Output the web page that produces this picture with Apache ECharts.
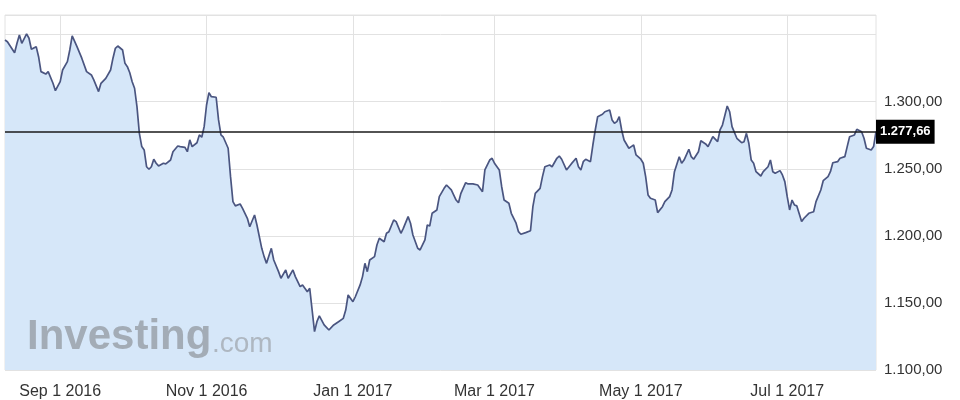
<!DOCTYPE html>
<html>
<head>
<meta charset="utf-8">
<script src="https://cdn.jsdelivr.net/npm/echarts@6/dist/echarts.min.js"></script>
<style>
html,body{margin:0;padding:0;background:#fff;}
#chart{width:960px;height:400px;}
</style>
</head>
<body>
<div id="chart"></div>
<script>
var dates = ['2016-08-09','2016-08-10','2016-08-13','2016-08-14','2016-08-15','2016-08-16','2016-08-18','2016-08-19','2016-08-20','2016-08-22','2016-08-23','2016-08-24','2016-08-26','2016-08-27','2016-08-29','2016-08-30',
'2016-09-01','2016-09-02','2016-09-04','2016-09-05','2016-09-06','2016-09-08','2016-09-10','2016-09-12','2016-09-14','2016-09-15','2016-09-17','2016-09-18','2016-09-20','2016-09-22','2016-09-23','2016-09-24','2016-09-25','2016-09-27','2016-09-28','2016-09-29','2016-09-30',
'2016-10-01','2016-10-02','2016-10-03','2016-10-04','2016-10-05','2016-10-06','2016-10-07','2016-10-08','2016-10-09','2016-10-10','2016-10-11','2016-10-12','2016-10-14','2016-10-15','2016-10-17','2016-10-18','2016-10-20','2016-10-21','2016-10-23','2016-10-24','2016-10-25','2016-10-26','2016-10-28','2016-10-29','2016-10-30','2016-10-31',
'2016-11-01','2016-11-02','2016-11-03','2016-11-05','2016-11-06','2016-11-07','2016-11-08','2016-11-10','2016-11-11','2016-11-12','2016-11-13','2016-11-15','2016-11-16','2016-11-18','2016-11-19','2016-11-21','2016-11-22','2016-11-24','2016-11-25','2016-11-26','2016-11-28','2016-11-29',
'2016-12-01','2016-12-02','2016-12-04','2016-12-05','2016-12-07','2016-12-08','2016-12-10','2016-12-11','2016-12-13','2016-12-14','2016-12-15','2016-12-16','2016-12-17','2016-12-18','2016-12-20','2016-12-22','2016-12-24','2016-12-26','2016-12-28','2016-12-29','2016-12-30',
'2017-01-01','2017-01-02','2017-01-04','2017-01-05','2017-01-06','2017-01-07','2017-01-08','2017-01-10','2017-01-11','2017-01-12','2017-01-14','2017-01-15','2017-01-16','2017-01-18','2017-01-19','2017-01-21','2017-01-22','2017-01-24','2017-01-25','2017-01-26','2017-01-28','2017-01-29','2017-01-31',
'2017-02-01','2017-02-02','2017-02-03','2017-02-05','2017-02-06','2017-02-08','2017-02-09','2017-02-11','2017-02-13','2017-02-14','2017-02-15','2017-02-17','2017-02-18','2017-02-20','2017-02-22','2017-02-24','2017-02-25','2017-02-27','2017-02-28',
'2017-03-01','2017-03-03','2017-03-04','2017-03-05','2017-03-07','2017-03-08','2017-03-10','2017-03-11','2017-03-12','2017-03-14','2017-03-16','2017-03-17','2017-03-18','2017-03-20','2017-03-21','2017-03-22','2017-03-24','2017-03-25','2017-03-27','2017-03-28','2017-03-29','2017-03-31',
'2017-04-02','2017-04-04','2017-04-05','2017-04-06','2017-04-07','2017-04-08','2017-04-10','2017-04-11','2017-04-12','2017-04-13','2017-04-15','2017-04-16','2017-04-18','2017-04-19','2017-04-20','2017-04-21','2017-04-22','2017-04-23','2017-04-24','2017-04-26','2017-04-27','2017-04-28','2017-04-29',
'2017-05-01','2017-05-02','2017-05-03','2017-05-04','2017-05-05','2017-05-07','2017-05-08','2017-05-10','2017-05-11','2017-05-13','2017-05-14','2017-05-15','2017-05-17','2017-05-18','2017-05-19','2017-05-21','2017-05-22','2017-05-23','2017-05-25','2017-05-26','2017-05-28','2017-05-29','2017-05-31',
'2017-06-02','2017-06-03','2017-06-04','2017-06-06','2017-06-07','2017-06-08','2017-06-10','2017-06-12','2017-06-13','2017-06-14','2017-06-15','2017-06-16','2017-06-17','2017-06-18','2017-06-20','2017-06-21','2017-06-23','2017-06-24','2017-06-25','2017-06-26','2017-06-28','2017-06-29','2017-06-30',
'2017-07-01','2017-07-02','2017-07-03','2017-07-04','2017-07-05','2017-07-07','2017-07-08','2017-07-10','2017-07-12','2017-07-13','2017-07-15','2017-07-16','2017-07-18','2017-07-19','2017-07-20','2017-07-22','2017-07-23','2017-07-25','2017-07-26','2017-07-27','2017-07-29','2017-07-30',
'2017-08-01','2017-08-02','2017-08-03','2017-08-05','2017-08-06','2017-08-07'];

var prices = [1346,1344.7,1336.5,1343.5,1349.7,1343.5,1350.5,1347.3,1339.1,1341,1333.5,1322.4,1320.6,1322.4,1313.7,1308.2,
1314.9,1323.6,1329.8,1338.5,1349,1341,1332.4,1322.4,1319.9,1316.2,1307.5,1313.7,1317.4,1323.6,1332.4,1339.8,1341.5,1338.5,1328.6,1326.1,1321.6,
1314.9,1310,1296.3,1276.4,1266.5,1264,1251.5,1249.6,1251.5,1257.1,1254.1,1252.1,1254.1,1253.6,1256.5,1262.7,1267,1266.5,1266,1262.7,1271.5,1266.5,1269.4,1275.2,1273.5,1281.4,
1297.5,1306.7,1303.7,1303.3,1286.4,1275.2,1273.5,1265.3,1244.1,1225.5,1222.3,1223.7,1220.5,1213.1,1206.8,1215.5,1208.1,1190.7,1184.5,1179.5,1190.7,1182,
1173.3,1168.4,1174.6,1168.4,1174.6,1169.6,1162.1,1163.4,1158.4,1160.9,1144.7,1128.6,1136,1140.3,1133.6,1129.8,1133.6,1136,1138.5,1144.7,1155.9,
1150.9,1154.6,1163.4,1169.6,1179.5,1173.3,1182,1184.5,1193.2,1198.2,1195.6,1201.9,1203.1,1211.8,1210.6,1201.9,1205.6,1214.3,1209.4,1200.6,1190.7,1189.5,1196.9,
1208.1,1207.3,1216.8,1219.3,1229.2,1235.4,1237.9,1234.2,1226.7,1224.7,1231.7,1239.6,1238.7,1238.7,1237.9,1232.9,1249.1,1256.5,1257.8,
1254.1,1249.1,1236.6,1226.7,1224.3,1216.8,1209.4,1203.1,1201.2,1202.4,1203.8,1221.7,1231.7,1235.4,1244.1,1251.5,1252.8,1251.5,1257.8,1259.5,1257.1,1249.1,
1253.6,1257.8,1251.5,1249.1,1255.3,1257.1,1255.3,1267.7,1278.9,1288.8,1290.6,1292.5,1293.8,1286.4,1283.9,1285.1,1288.8,1278.9,1271.4,1265.3,1266.5,1267.7,1260.3,
1257.1,1254.1,1244.1,1230.5,1228,1226.7,1217.3,1221.7,1225.5,1229.2,1234.2,1247.8,1259,1254.1,1256.5,1264.5,1259,1257.1,1262.7,1270.9,1268.5,1266.5,1273.9,
1270.2,1278.9,1282.6,1296.8,1292.5,1281.4,1272.7,1269.4,1270.2,1276.4,1269,1256.5,1254.1,1247.8,1244.6,1247.8,1251.5,1256.5,1247.8,1246.6,1248.6,1245.4,1240.4,
1229.2,1219.3,1226.7,1223,1222.3,1210.6,1213.1,1216.8,1218,1225.5,1234.2,1241.1,1244.1,1247.8,1254.5,1255.3,1257.8,1259,1266.5,1273.9,1275.2,1279.4,
1277.6,1272.7,1265.3,1264,1266.5,1277.66];

var xTickDates = ['2016-09-01','2016-11-01','2017-01-01','2017-03-01','2017-05-01','2017-07-01'];
var xTickLabels = ['Sep 1 2016','Nov 1 2016','Jan 1 2017','Mar 1 2017','May 1 2017','Jul 1 2017'];
var yTickValues = [1100, 1150, 1200, 1250, 1300];
var lastPrice = 1277.66;

function fmtNum(v) {
  var s = v.toFixed(2).split('.');
  var intPart = s[0].replace(/\B(?=(\d{3})+(?!\d))/g, '.');
  return intPart + ',' + s[1];
}
function toTs(s) {
  var p = s.split('-');
  return new Date(+p[0], +p[1] - 1, +p[2]).getTime();
}
var xTickTs = xTickDates.map(toTs);
var seriesData = dates.map(function (d, i) { return [toTs(d), prices[i]]; });

var chart = echarts.init(document.getElementById('chart'), null, { renderer: 'canvas' });
chart.setOption({
  animation: false,
  backgroundColor: '#ffffff',
  grid: { left: 5, right: 84, top: 15, bottom: 30, show: true, borderColor: '#e2e2e2', borderWidth: 1, backgroundColor: 'transparent' },
  xAxis: {
    type: 'value',
    min: toTs('2016-08-09'),
    max: toTs('2017-08-07'),
    axisLine: { show: false },
    axisTick: { show: false, customValues: xTickTs },
    splitLine: { show: true, lineStyle: { color: '#e2e2e2', width: 1 } },
    axisLabel: {
      customValues: xTickTs,
      margin: 14,
      fontSize: 16,
      color: '#333',
      fontFamily: 'Liberation Sans, Arial, sans-serif',
      formatter: function (v) {
        var i = xTickTs.indexOf(v);
        return i >= 0 ? xTickLabels[i] : '';
      }
    }
  },
  yAxis: {
    type: 'value',
    position: 'right',
    min: 1100,
    max: 1364.6,
    interval: 50,
    axisLine: { show: false },
    axisTick: { show: false },
    splitLine: { show: true, lineStyle: { color: '#e2e2e2', width: 1 } },
    axisLabel: {
      margin: 8,
      fontSize: 15,
      color: '#333',
      fontFamily: 'Liberation Sans, Arial, sans-serif',
      formatter: function (v) {
        return yTickValues.indexOf(v) >= 0 ? fmtNum(v) : '';
      }
    }
  },
  graphic: {
    elements: [
      {
        type: 'text', left: 27, top: 316, z: 100, silent: true,
        style: { text: 'Investing', fontSize: 42, fontWeight: 'bold', fontFamily: 'Liberation Sans, Arial, sans-serif', fill: '#a3acb6' }
      },
      {
        type: 'text', left: 212, top: 330, z: 100, silent: true,
        style: { text: '.com', fontSize: 28, fontFamily: 'Liberation Sans, Arial, sans-serif', fill: '#aeb7c1' }
      }
    ]
  },
  series: [{
    type: 'line',
    data: seriesData,
    showSymbol: false,
    symbol: 'none',
    smooth: false,
    lineStyle: { color: '#4a5580', width: 1.7 },
    areaStyle: { color: '#d6e7f9', opacity: 1, origin: 'start' },
    z: 2,
    markLine: {
      silent: true,
      symbol: ['none', 'none'],
      lineStyle: { color: '#1a1a1a', width: 1.5, type: 'solid' },
      label: {
        show: true,
        position: 'end',
        distance: 0,
        formatter: function () { return fmtNum(lastPrice); },
        backgroundColor: '#000',
        color: '#fff',
        fontWeight: 'bold',
        fontSize: 13,
        fontFamily: 'Liberation Sans, Arial, sans-serif',
        padding: [6, 4, 5, 4]
      },
      data: [{ yAxis: lastPrice }]
    }
  }]
});
</script>
</body>
</html>
